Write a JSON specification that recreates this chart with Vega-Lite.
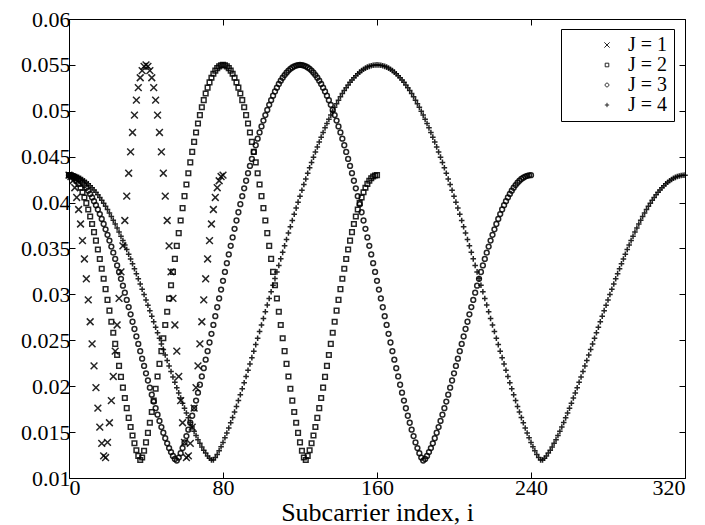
{
"$schema": "https://vega.github.io/schema/vega-lite/v6.json",
"width": 616, "height": 459,
"autosize": {"type": "none"},
"padding": {"left": 69, "top": 19, "right": 20, "bottom": 47},
"background": "white",
"config": {
  "view": {"stroke": "#000", "strokeWidth": 1},
  "font": "Liberation Serif",
  "axis": {"grid": false, "domain": false, "tickColor": "#000", "tickSize": -6, "tickWidth": 1, "labelFont": "Liberation Serif", "labelFontSize": 22, "labelColor": "#000", "titleFont": "Liberation Serif", "titleFontSize": 26, "titleFontWeight": "normal", "titleColor": "#000"}
},
"resolve": {"axis": {"x": "independent", "y": "independent"}},
"layer": [
{
"data": {"values": [
{"J":1,"i":0,"v":0.04299},{"J":1,"i":1,"v":0.04284},{"J":1,"i":2,"v":0.04238},{"J":1,"i":3,"v":0.04162},{"J":1,"i":4,"v":0.04056},{"J":1,"i":5,"v":0.03925},{"J":1,"i":6,"v":0.03767},{"J":1,"i":7,"v":0.03586},{"J":1,"i":8,"v":0.03386},{"J":1,"i":9,"v":0.03170},{"J":1,"i":10,"v":0.02940},{"J":1,"i":11,"v":0.02702},{"J":1,"i":12,"v":0.02461},{"J":1,"i":13,"v":0.02221},{"J":1,"i":14,"v":0.01984},{"J":1,"i":15,"v":0.01761},{"J":1,"i":16,"v":0.01555},{"J":1,"i":17,"v":0.01378},{"J":1,"i":18,"v":0.01241},{"J":1,"i":19,"v":0.01223},{"J":1,"i":20,"v":0.01388},{"J":1,"i":21,"v":0.01602},{"J":1,"i":22,"v":0.01843},{"J":1,"i":23,"v":0.02106},{"J":1,"i":24,"v":0.02382},{"J":1,"i":25,"v":0.02667},{"J":1,"i":26,"v":0.02956},{"J":1,"i":27,"v":0.03245},{"J":1,"i":28,"v":0.03529},{"J":1,"i":29,"v":0.03805},{"J":1,"i":30,"v":0.04070},{"J":1,"i":31,"v":0.04320},{"J":1,"i":32,"v":0.04552},{"J":1,"i":33,"v":0.04764},{"J":1,"i":34,"v":0.04953},{"J":1,"i":35,"v":0.05116},{"J":1,"i":36,"v":0.05252},{"J":1,"i":37,"v":0.05360},{"J":1,"i":38,"v":0.05438},{"J":1,"i":39,"v":0.05484},{"J":1,"i":40,"v":0.05500},{"J":1,"i":41,"v":0.05484},{"J":1,"i":42,"v":0.05438},{"J":1,"i":43,"v":0.05360},{"J":1,"i":44,"v":0.05252},{"J":1,"i":45,"v":0.05116},{"J":1,"i":46,"v":0.04953},{"J":1,"i":47,"v":0.04764},{"J":1,"i":48,"v":0.04552},{"J":1,"i":49,"v":0.04320},{"J":1,"i":50,"v":0.04070},{"J":1,"i":51,"v":0.03805},{"J":1,"i":52,"v":0.03529},{"J":1,"i":53,"v":0.03245},{"J":1,"i":54,"v":0.02956},{"J":1,"i":55,"v":0.02667},{"J":1,"i":56,"v":0.02382},{"J":1,"i":57,"v":0.02106},{"J":1,"i":58,"v":0.01843},{"J":1,"i":59,"v":0.01602},{"J":1,"i":60,"v":0.01388},{"J":1,"i":61,"v":0.01223},{"J":1,"i":62,"v":0.01241},{"J":1,"i":63,"v":0.01378},{"J":1,"i":64,"v":0.01555},{"J":1,"i":65,"v":0.01761},{"J":1,"i":66,"v":0.01984},{"J":1,"i":67,"v":0.02221},{"J":1,"i":68,"v":0.02461},{"J":1,"i":69,"v":0.02702},{"J":1,"i":70,"v":0.02940},{"J":1,"i":71,"v":0.03170},{"J":1,"i":72,"v":0.03386},{"J":1,"i":73,"v":0.03586},{"J":1,"i":74,"v":0.03767},{"J":1,"i":75,"v":0.03925},{"J":1,"i":76,"v":0.04056},{"J":1,"i":77,"v":0.04162},{"J":1,"i":78,"v":0.04238},{"J":1,"i":79,"v":0.04284},{"J":1,"i":80,"v":0.04299},
{"J":2,"i":0,"v":0.04299},{"J":2,"i":1,"v":0.04295},{"J":2,"i":2,"v":0.04284},{"J":2,"i":3,"v":0.04265},{"J":2,"i":4,"v":0.04238},{"J":2,"i":5,"v":0.04204},{"J":2,"i":6,"v":0.04162},{"J":2,"i":7,"v":0.04113},{"J":2,"i":8,"v":0.04056},{"J":2,"i":9,"v":0.03994},{"J":2,"i":10,"v":0.03925},{"J":2,"i":11,"v":0.03848},{"J":2,"i":12,"v":0.03767},{"J":2,"i":13,"v":0.03679},{"J":2,"i":14,"v":0.03586},{"J":2,"i":15,"v":0.03489},{"J":2,"i":16,"v":0.03386},{"J":2,"i":17,"v":0.03280},{"J":2,"i":18,"v":0.03170},{"J":2,"i":19,"v":0.03057},{"J":2,"i":20,"v":0.02940},{"J":2,"i":21,"v":0.02823},{"J":2,"i":22,"v":0.02702},{"J":2,"i":23,"v":0.02582},{"J":2,"i":24,"v":0.02461},{"J":2,"i":25,"v":0.02340},{"J":2,"i":26,"v":0.02221},{"J":2,"i":27,"v":0.02101},{"J":2,"i":28,"v":0.01984},{"J":2,"i":29,"v":0.01871},{"J":2,"i":30,"v":0.01761},{"J":2,"i":31,"v":0.01655},{"J":2,"i":32,"v":0.01555},{"J":2,"i":33,"v":0.01463},{"J":2,"i":34,"v":0.01378},{"J":2,"i":35,"v":0.01302},{"J":2,"i":36,"v":0.01241},{"J":2,"i":37,"v":0.01196},{"J":2,"i":38,"v":0.01223},{"J":2,"i":39,"v":0.01297},{"J":2,"i":40,"v":0.01388},{"J":2,"i":41,"v":0.01491},{"J":2,"i":42,"v":0.01602},{"J":2,"i":43,"v":0.01719},{"J":2,"i":44,"v":0.01843},{"J":2,"i":45,"v":0.01972},{"J":2,"i":46,"v":0.02106},{"J":2,"i":47,"v":0.02243},{"J":2,"i":48,"v":0.02382},{"J":2,"i":49,"v":0.02523},{"J":2,"i":50,"v":0.02667},{"J":2,"i":51,"v":0.02811},{"J":2,"i":52,"v":0.02956},{"J":2,"i":53,"v":0.03100},{"J":2,"i":54,"v":0.03245},{"J":2,"i":55,"v":0.03387},{"J":2,"i":56,"v":0.03529},{"J":2,"i":57,"v":0.03668},{"J":2,"i":58,"v":0.03805},{"J":2,"i":59,"v":0.03940},{"J":2,"i":60,"v":0.04070},{"J":2,"i":61,"v":0.04197},{"J":2,"i":62,"v":0.04320},{"J":2,"i":63,"v":0.04438},{"J":2,"i":64,"v":0.04552},{"J":2,"i":65,"v":0.04661},{"J":2,"i":66,"v":0.04764},{"J":2,"i":67,"v":0.04862},{"J":2,"i":68,"v":0.04953},{"J":2,"i":69,"v":0.05038},{"J":2,"i":70,"v":0.05116},{"J":2,"i":71,"v":0.05188},{"J":2,"i":72,"v":0.05252},{"J":2,"i":73,"v":0.05310},{"J":2,"i":74,"v":0.05360},{"J":2,"i":75,"v":0.05403},{"J":2,"i":76,"v":0.05438},{"J":2,"i":77,"v":0.05465},{"J":2,"i":78,"v":0.05484},{"J":2,"i":79,"v":0.05496},{"J":2,"i":80,"v":0.05500},{"J":2,"i":81,"v":0.05496},{"J":2,"i":82,"v":0.05484},{"J":2,"i":83,"v":0.05465},{"J":2,"i":84,"v":0.05438},{"J":2,"i":85,"v":0.05403},{"J":2,"i":86,"v":0.05360},{"J":2,"i":87,"v":0.05310},{"J":2,"i":88,"v":0.05252},{"J":2,"i":89,"v":0.05188},{"J":2,"i":90,"v":0.05116},{"J":2,"i":91,"v":0.05038},{"J":2,"i":92,"v":0.04953},{"J":2,"i":93,"v":0.04862},{"J":2,"i":94,"v":0.04764},{"J":2,"i":95,"v":0.04661},{"J":2,"i":96,"v":0.04552},{"J":2,"i":97,"v":0.04438},{"J":2,"i":98,"v":0.04320},{"J":2,"i":99,"v":0.04197},{"J":2,"i":100,"v":0.04070},{"J":2,"i":101,"v":0.03940},{"J":2,"i":102,"v":0.03805},{"J":2,"i":103,"v":0.03668},{"J":2,"i":104,"v":0.03529},{"J":2,"i":105,"v":0.03387},{"J":2,"i":106,"v":0.03245},{"J":2,"i":107,"v":0.03100},{"J":2,"i":108,"v":0.02956},{"J":2,"i":109,"v":0.02811},{"J":2,"i":110,"v":0.02667},{"J":2,"i":111,"v":0.02523},{"J":2,"i":112,"v":0.02382},{"J":2,"i":113,"v":0.02243},{"J":2,"i":114,"v":0.02106},{"J":2,"i":115,"v":0.01972},{"J":2,"i":116,"v":0.01843},{"J":2,"i":117,"v":0.01719},{"J":2,"i":118,"v":0.01602},{"J":2,"i":119,"v":0.01491},{"J":2,"i":120,"v":0.01388},{"J":2,"i":121,"v":0.01297},{"J":2,"i":122,"v":0.01223},{"J":2,"i":123,"v":0.01196},{"J":2,"i":124,"v":0.01241},{"J":2,"i":125,"v":0.01302},{"J":2,"i":126,"v":0.01378},{"J":2,"i":127,"v":0.01463},{"J":2,"i":128,"v":0.01555},{"J":2,"i":129,"v":0.01655},{"J":2,"i":130,"v":0.01761},{"J":2,"i":131,"v":0.01871},{"J":2,"i":132,"v":0.01984},{"J":2,"i":133,"v":0.02101},{"J":2,"i":134,"v":0.02221},{"J":2,"i":135,"v":0.02340},{"J":2,"i":136,"v":0.02461},{"J":2,"i":137,"v":0.02582},{"J":2,"i":138,"v":0.02702},{"J":2,"i":139,"v":0.02823},{"J":2,"i":140,"v":0.02940},{"J":2,"i":141,"v":0.03057},{"J":2,"i":142,"v":0.03170},{"J":2,"i":143,"v":0.03280},{"J":2,"i":144,"v":0.03386},{"J":2,"i":145,"v":0.03489},{"J":2,"i":146,"v":0.03586},{"J":2,"i":147,"v":0.03679},{"J":2,"i":148,"v":0.03767},{"J":2,"i":149,"v":0.03848},{"J":2,"i":150,"v":0.03925},{"J":2,"i":151,"v":0.03994},{"J":2,"i":152,"v":0.04056},{"J":2,"i":153,"v":0.04113},{"J":2,"i":154,"v":0.04162},{"J":2,"i":155,"v":0.04204},{"J":2,"i":156,"v":0.04238},{"J":2,"i":157,"v":0.04265},{"J":2,"i":158,"v":0.04284},{"J":2,"i":159,"v":0.04295},{"J":2,"i":160,"v":0.04299},
{"J":3,"i":0,"v":0.04299},{"J":3,"i":1,"v":0.04297},{"J":3,"i":2,"v":0.04292},{"J":3,"i":3,"v":0.04284},{"J":3,"i":4,"v":0.04272},{"J":3,"i":5,"v":0.04257},{"J":3,"i":6,"v":0.04238},{"J":3,"i":7,"v":0.04216},{"J":3,"i":8,"v":0.04191},{"J":3,"i":9,"v":0.04162},{"J":3,"i":10,"v":0.04130},{"J":3,"i":11,"v":0.04095},{"J":3,"i":12,"v":0.04056},{"J":3,"i":13,"v":0.04015},{"J":3,"i":14,"v":0.03972},{"J":3,"i":15,"v":0.03925},{"J":3,"i":16,"v":0.03875},{"J":3,"i":17,"v":0.03822},{"J":3,"i":18,"v":0.03767},{"J":3,"i":19,"v":0.03709},{"J":3,"i":20,"v":0.03649},{"J":3,"i":21,"v":0.03586},{"J":3,"i":22,"v":0.03521},{"J":3,"i":23,"v":0.03455},{"J":3,"i":24,"v":0.03386},{"J":3,"i":25,"v":0.03316},{"J":3,"i":26,"v":0.03244},{"J":3,"i":27,"v":0.03170},{"J":3,"i":28,"v":0.03095},{"J":3,"i":29,"v":0.03019},{"J":3,"i":30,"v":0.02940},{"J":3,"i":31,"v":0.02862},{"J":3,"i":32,"v":0.02783},{"J":3,"i":33,"v":0.02702},{"J":3,"i":34,"v":0.02623},{"J":3,"i":35,"v":0.02542},{"J":3,"i":36,"v":0.02461},{"J":3,"i":37,"v":0.02381},{"J":3,"i":38,"v":0.02300},{"J":3,"i":39,"v":0.02221},{"J":3,"i":40,"v":0.02140},{"J":3,"i":41,"v":0.02062},{"J":3,"i":42,"v":0.01984},{"J":3,"i":43,"v":0.01908},{"J":3,"i":44,"v":0.01833},{"J":3,"i":45,"v":0.01761},{"J":3,"i":46,"v":0.01690},{"J":3,"i":47,"v":0.01622},{"J":3,"i":48,"v":0.01555},{"J":3,"i":49,"v":0.01493},{"J":3,"i":50,"v":0.01433},{"J":3,"i":51,"v":0.01378},{"J":3,"i":52,"v":0.01326},{"J":3,"i":53,"v":0.01282},{"J":3,"i":54,"v":0.01241},{"J":3,"i":55,"v":0.01208},{"J":3,"i":56,"v":0.01190},{"J":3,"i":57,"v":0.01223},{"J":3,"i":58,"v":0.01270},{"J":3,"i":59,"v":0.01326},{"J":3,"i":60,"v":0.01388},{"J":3,"i":61,"v":0.01457},{"J":3,"i":62,"v":0.01526},{"J":3,"i":63,"v":0.01602},{"J":3,"i":64,"v":0.01678},{"J":3,"i":65,"v":0.01760},{"J":3,"i":66,"v":0.01843},{"J":3,"i":67,"v":0.01929},{"J":3,"i":68,"v":0.02016},{"J":3,"i":69,"v":0.02106},{"J":3,"i":70,"v":0.02196},{"J":3,"i":71,"v":0.02289},{"J":3,"i":72,"v":0.02382},{"J":3,"i":73,"v":0.02476},{"J":3,"i":74,"v":0.02571},{"J":3,"i":75,"v":0.02667},{"J":3,"i":76,"v":0.02763},{"J":3,"i":77,"v":0.02860},{"J":3,"i":78,"v":0.02956},{"J":3,"i":79,"v":0.03053},{"J":3,"i":80,"v":0.03148},{"J":3,"i":81,"v":0.03245},{"J":3,"i":82,"v":0.03340},{"J":3,"i":83,"v":0.03435},{"J":3,"i":84,"v":0.03529},{"J":3,"i":85,"v":0.03621},{"J":3,"i":86,"v":0.03714},{"J":3,"i":87,"v":0.03805},{"J":3,"i":88,"v":0.03895},{"J":3,"i":89,"v":0.03983},{"J":3,"i":90,"v":0.04070},{"J":3,"i":91,"v":0.04155},{"J":3,"i":92,"v":0.04238},{"J":3,"i":93,"v":0.04320},{"J":3,"i":94,"v":0.04399},{"J":3,"i":95,"v":0.04476},{"J":3,"i":96,"v":0.04552},{"J":3,"i":97,"v":0.04625},{"J":3,"i":98,"v":0.04696},{"J":3,"i":99,"v":0.04764},{"J":3,"i":100,"v":0.04830},{"J":3,"i":101,"v":0.04893},{"J":3,"i":102,"v":0.04953},{"J":3,"i":103,"v":0.05010},{"J":3,"i":104,"v":0.05065},{"J":3,"i":105,"v":0.05116},{"J":3,"i":106,"v":0.05165},{"J":3,"i":107,"v":0.05210},{"J":3,"i":108,"v":0.05252},{"J":3,"i":109,"v":0.05292},{"J":3,"i":110,"v":0.05328},{"J":3,"i":111,"v":0.05360},{"J":3,"i":112,"v":0.05389},{"J":3,"i":113,"v":0.05415},{"J":3,"i":114,"v":0.05438},{"J":3,"i":115,"v":0.05457},{"J":3,"i":116,"v":0.05472},{"J":3,"i":117,"v":0.05484},{"J":3,"i":118,"v":0.05493},{"J":3,"i":119,"v":0.05498},{"J":3,"i":120,"v":0.05500},{"J":3,"i":121,"v":0.05498},{"J":3,"i":122,"v":0.05493},{"J":3,"i":123,"v":0.05484},{"J":3,"i":124,"v":0.05472},{"J":3,"i":125,"v":0.05457},{"J":3,"i":126,"v":0.05438},{"J":3,"i":127,"v":0.05415},{"J":3,"i":128,"v":0.05389},{"J":3,"i":129,"v":0.05360},{"J":3,"i":130,"v":0.05328},{"J":3,"i":131,"v":0.05292},{"J":3,"i":132,"v":0.05252},{"J":3,"i":133,"v":0.05210},{"J":3,"i":134,"v":0.05165},{"J":3,"i":135,"v":0.05116},{"J":3,"i":136,"v":0.05065},{"J":3,"i":137,"v":0.05010},{"J":3,"i":138,"v":0.04953},{"J":3,"i":139,"v":0.04893},{"J":3,"i":140,"v":0.04830},{"J":3,"i":141,"v":0.04764},{"J":3,"i":142,"v":0.04696},{"J":3,"i":143,"v":0.04625},{"J":3,"i":144,"v":0.04552},{"J":3,"i":145,"v":0.04476},{"J":3,"i":146,"v":0.04399},{"J":3,"i":147,"v":0.04320},{"J":3,"i":148,"v":0.04238},{"J":3,"i":149,"v":0.04155},{"J":3,"i":150,"v":0.04070},{"J":3,"i":151,"v":0.03983},{"J":3,"i":152,"v":0.03895},{"J":3,"i":153,"v":0.03805},{"J":3,"i":154,"v":0.03714},{"J":3,"i":155,"v":0.03621},{"J":3,"i":156,"v":0.03529},{"J":3,"i":157,"v":0.03435},{"J":3,"i":158,"v":0.03340},{"J":3,"i":159,"v":0.03245},{"J":3,"i":160,"v":0.03148},{"J":3,"i":161,"v":0.03053},{"J":3,"i":162,"v":0.02956},{"J":3,"i":163,"v":0.02860},{"J":3,"i":164,"v":0.02763},{"J":3,"i":165,"v":0.02667},{"J":3,"i":166,"v":0.02571},{"J":3,"i":167,"v":0.02476},{"J":3,"i":168,"v":0.02382},{"J":3,"i":169,"v":0.02289},{"J":3,"i":170,"v":0.02196},{"J":3,"i":171,"v":0.02106},{"J":3,"i":172,"v":0.02016},{"J":3,"i":173,"v":0.01929},{"J":3,"i":174,"v":0.01843},{"J":3,"i":175,"v":0.01760},{"J":3,"i":176,"v":0.01678},{"J":3,"i":177,"v":0.01602},{"J":3,"i":178,"v":0.01526},{"J":3,"i":179,"v":0.01457},{"J":3,"i":180,"v":0.01388},{"J":3,"i":181,"v":0.01326},{"J":3,"i":182,"v":0.01270},{"J":3,"i":183,"v":0.01223},{"J":3,"i":184,"v":0.01190},{"J":3,"i":185,"v":0.01208},{"J":3,"i":186,"v":0.01241},{"J":3,"i":187,"v":0.01282},{"J":3,"i":188,"v":0.01326},{"J":3,"i":189,"v":0.01378},{"J":3,"i":190,"v":0.01433},{"J":3,"i":191,"v":0.01493},{"J":3,"i":192,"v":0.01555},{"J":3,"i":193,"v":0.01622},{"J":3,"i":194,"v":0.01690},{"J":3,"i":195,"v":0.01761},{"J":3,"i":196,"v":0.01833},{"J":3,"i":197,"v":0.01908},{"J":3,"i":198,"v":0.01984},{"J":3,"i":199,"v":0.02062},{"J":3,"i":200,"v":0.02140},{"J":3,"i":201,"v":0.02221},{"J":3,"i":202,"v":0.02300},{"J":3,"i":203,"v":0.02381},{"J":3,"i":204,"v":0.02461},{"J":3,"i":205,"v":0.02542},{"J":3,"i":206,"v":0.02623},{"J":3,"i":207,"v":0.02702},{"J":3,"i":208,"v":0.02783},{"J":3,"i":209,"v":0.02862},{"J":3,"i":210,"v":0.02940},{"J":3,"i":211,"v":0.03019},{"J":3,"i":212,"v":0.03095},{"J":3,"i":213,"v":0.03170},{"J":3,"i":214,"v":0.03244},{"J":3,"i":215,"v":0.03316},{"J":3,"i":216,"v":0.03386},{"J":3,"i":217,"v":0.03455},{"J":3,"i":218,"v":0.03521},{"J":3,"i":219,"v":0.03586},{"J":3,"i":220,"v":0.03649},{"J":3,"i":221,"v":0.03709},{"J":3,"i":222,"v":0.03767},{"J":3,"i":223,"v":0.03822},{"J":3,"i":224,"v":0.03875},{"J":3,"i":225,"v":0.03925},{"J":3,"i":226,"v":0.03972},{"J":3,"i":227,"v":0.04015},{"J":3,"i":228,"v":0.04056},{"J":3,"i":229,"v":0.04095},{"J":3,"i":230,"v":0.04130},{"J":3,"i":231,"v":0.04162},{"J":3,"i":232,"v":0.04191},{"J":3,"i":233,"v":0.04216},{"J":3,"i":234,"v":0.04238},{"J":3,"i":235,"v":0.04257},{"J":3,"i":236,"v":0.04272},{"J":3,"i":237,"v":0.04284},{"J":3,"i":238,"v":0.04292},{"J":3,"i":239,"v":0.04297},{"J":3,"i":240,"v":0.04299},
{"J":4,"i":0,"v":0.04299},{"J":4,"i":1,"v":0.04298},{"J":4,"i":2,"v":0.04295},{"J":4,"i":3,"v":0.04290},{"J":4,"i":4,"v":0.04284},{"J":4,"i":5,"v":0.04275},{"J":4,"i":6,"v":0.04265},{"J":4,"i":7,"v":0.04252},{"J":4,"i":8,"v":0.04238},{"J":4,"i":9,"v":0.04222},{"J":4,"i":10,"v":0.04204},{"J":4,"i":11,"v":0.04184},{"J":4,"i":12,"v":0.04162},{"J":4,"i":13,"v":0.04138},{"J":4,"i":14,"v":0.04113},{"J":4,"i":15,"v":0.04085},{"J":4,"i":16,"v":0.04056},{"J":4,"i":17,"v":0.04026},{"J":4,"i":18,"v":0.03994},{"J":4,"i":19,"v":0.03960},{"J":4,"i":20,"v":0.03925},{"J":4,"i":21,"v":0.03887},{"J":4,"i":22,"v":0.03848},{"J":4,"i":23,"v":0.03808},{"J":4,"i":24,"v":0.03767},{"J":4,"i":25,"v":0.03724},{"J":4,"i":26,"v":0.03679},{"J":4,"i":27,"v":0.03633},{"J":4,"i":28,"v":0.03586},{"J":4,"i":29,"v":0.03538},{"J":4,"i":30,"v":0.03489},{"J":4,"i":31,"v":0.03438},{"J":4,"i":32,"v":0.03386},{"J":4,"i":33,"v":0.03333},{"J":4,"i":34,"v":0.03280},{"J":4,"i":35,"v":0.03226},{"J":4,"i":36,"v":0.03170},{"J":4,"i":37,"v":0.03113},{"J":4,"i":38,"v":0.03057},{"J":4,"i":39,"v":0.02999},{"J":4,"i":40,"v":0.02940},{"J":4,"i":41,"v":0.02882},{"J":4,"i":42,"v":0.02823},{"J":4,"i":43,"v":0.02763},{"J":4,"i":44,"v":0.02702},{"J":4,"i":45,"v":0.02643},{"J":4,"i":46,"v":0.02582},{"J":4,"i":47,"v":0.02521},{"J":4,"i":48,"v":0.02461},{"J":4,"i":49,"v":0.02401},{"J":4,"i":50,"v":0.02340},{"J":4,"i":51,"v":0.02280},{"J":4,"i":52,"v":0.02221},{"J":4,"i":53,"v":0.02160},{"J":4,"i":54,"v":0.02101},{"J":4,"i":55,"v":0.02043},{"J":4,"i":56,"v":0.01984},{"J":4,"i":57,"v":0.01927},{"J":4,"i":58,"v":0.01871},{"J":4,"i":59,"v":0.01814},{"J":4,"i":60,"v":0.01761},{"J":4,"i":61,"v":0.01708},{"J":4,"i":62,"v":0.01655},{"J":4,"i":63,"v":0.01605},{"J":4,"i":64,"v":0.01555},{"J":4,"i":65,"v":0.01508},{"J":4,"i":66,"v":0.01463},{"J":4,"i":67,"v":0.01418},{"J":4,"i":68,"v":0.01378},{"J":4,"i":69,"v":0.01339},{"J":4,"i":70,"v":0.01302},{"J":4,"i":71,"v":0.01272},{"J":4,"i":72,"v":0.01241},{"J":4,"i":73,"v":0.01215},{"J":4,"i":74,"v":0.01196},{"J":4,"i":75,"v":0.01196},{"J":4,"i":76,"v":0.01223},{"J":4,"i":77,"v":0.01257},{"J":4,"i":78,"v":0.01297},{"J":4,"i":79,"v":0.01341},{"J":4,"i":80,"v":0.01388},{"J":4,"i":81,"v":0.01439},{"J":4,"i":82,"v":0.01491},{"J":4,"i":83,"v":0.01545},{"J":4,"i":84,"v":0.01602},{"J":4,"i":85,"v":0.01658},{"J":4,"i":86,"v":0.01719},{"J":4,"i":87,"v":0.01780},{"J":4,"i":88,"v":0.01843},{"J":4,"i":89,"v":0.01907},{"J":4,"i":90,"v":0.01972},{"J":4,"i":91,"v":0.02038},{"J":4,"i":92,"v":0.02106},{"J":4,"i":93,"v":0.02173},{"J":4,"i":94,"v":0.02243},{"J":4,"i":95,"v":0.02311},{"J":4,"i":96,"v":0.02382},{"J":4,"i":97,"v":0.02453},{"J":4,"i":98,"v":0.02523},{"J":4,"i":99,"v":0.02595},{"J":4,"i":100,"v":0.02667},{"J":4,"i":101,"v":0.02738},{"J":4,"i":102,"v":0.02811},{"J":4,"i":103,"v":0.02884},{"J":4,"i":104,"v":0.02956},{"J":4,"i":105,"v":0.03029},{"J":4,"i":106,"v":0.03100},{"J":4,"i":107,"v":0.03172},{"J":4,"i":108,"v":0.03245},{"J":4,"i":109,"v":0.03316},{"J":4,"i":110,"v":0.03387},{"J":4,"i":111,"v":0.03458},{"J":4,"i":112,"v":0.03529},{"J":4,"i":113,"v":0.03598},{"J":4,"i":114,"v":0.03668},{"J":4,"i":115,"v":0.03737},{"J":4,"i":116,"v":0.03805},{"J":4,"i":117,"v":0.03873},{"J":4,"i":118,"v":0.03940},{"J":4,"i":119,"v":0.04005},{"J":4,"i":120,"v":0.04070},{"J":4,"i":121,"v":0.04134},{"J":4,"i":122,"v":0.04197},{"J":4,"i":123,"v":0.04258},{"J":4,"i":124,"v":0.04320},{"J":4,"i":125,"v":0.04380},{"J":4,"i":126,"v":0.04438},{"J":4,"i":127,"v":0.04495},{"J":4,"i":128,"v":0.04552},{"J":4,"i":129,"v":0.04607},{"J":4,"i":130,"v":0.04661},{"J":4,"i":131,"v":0.04713},{"J":4,"i":132,"v":0.04764},{"J":4,"i":133,"v":0.04814},{"J":4,"i":134,"v":0.04862},{"J":4,"i":135,"v":0.04908},{"J":4,"i":136,"v":0.04953},{"J":4,"i":137,"v":0.04996},{"J":4,"i":138,"v":0.05038},{"J":4,"i":139,"v":0.05078},{"J":4,"i":140,"v":0.05116},{"J":4,"i":141,"v":0.05153},{"J":4,"i":142,"v":0.05188},{"J":4,"i":143,"v":0.05221},{"J":4,"i":144,"v":0.05252},{"J":4,"i":145,"v":0.05282},{"J":4,"i":146,"v":0.05310},{"J":4,"i":147,"v":0.05336},{"J":4,"i":148,"v":0.05360},{"J":4,"i":149,"v":0.05382},{"J":4,"i":150,"v":0.05403},{"J":4,"i":151,"v":0.05421},{"J":4,"i":152,"v":0.05438},{"J":4,"i":153,"v":0.05452},{"J":4,"i":154,"v":0.05465},{"J":4,"i":155,"v":0.05476},{"J":4,"i":156,"v":0.05484},{"J":4,"i":157,"v":0.05491},{"J":4,"i":158,"v":0.05496},{"J":4,"i":159,"v":0.05499},{"J":4,"i":160,"v":0.05500},{"J":4,"i":161,"v":0.05499},{"J":4,"i":162,"v":0.05496},{"J":4,"i":163,"v":0.05491},{"J":4,"i":164,"v":0.05484},{"J":4,"i":165,"v":0.05476},{"J":4,"i":166,"v":0.05465},{"J":4,"i":167,"v":0.05452},{"J":4,"i":168,"v":0.05438},{"J":4,"i":169,"v":0.05421},{"J":4,"i":170,"v":0.05403},{"J":4,"i":171,"v":0.05382},{"J":4,"i":172,"v":0.05360},{"J":4,"i":173,"v":0.05336},{"J":4,"i":174,"v":0.05310},{"J":4,"i":175,"v":0.05282},{"J":4,"i":176,"v":0.05252},{"J":4,"i":177,"v":0.05221},{"J":4,"i":178,"v":0.05188},{"J":4,"i":179,"v":0.05153},{"J":4,"i":180,"v":0.05116},{"J":4,"i":181,"v":0.05078},{"J":4,"i":182,"v":0.05038},{"J":4,"i":183,"v":0.04996},{"J":4,"i":184,"v":0.04953},{"J":4,"i":185,"v":0.04908},{"J":4,"i":186,"v":0.04862},{"J":4,"i":187,"v":0.04814},{"J":4,"i":188,"v":0.04764},{"J":4,"i":189,"v":0.04713},{"J":4,"i":190,"v":0.04661},{"J":4,"i":191,"v":0.04607},{"J":4,"i":192,"v":0.04552},{"J":4,"i":193,"v":0.04495},{"J":4,"i":194,"v":0.04438},{"J":4,"i":195,"v":0.04380},{"J":4,"i":196,"v":0.04320},{"J":4,"i":197,"v":0.04258},{"J":4,"i":198,"v":0.04197},{"J":4,"i":199,"v":0.04134},{"J":4,"i":200,"v":0.04070},{"J":4,"i":201,"v":0.04005},{"J":4,"i":202,"v":0.03940},{"J":4,"i":203,"v":0.03873},{"J":4,"i":204,"v":0.03805},{"J":4,"i":205,"v":0.03737},{"J":4,"i":206,"v":0.03668},{"J":4,"i":207,"v":0.03598},{"J":4,"i":208,"v":0.03529},{"J":4,"i":209,"v":0.03458},{"J":4,"i":210,"v":0.03387},{"J":4,"i":211,"v":0.03316},{"J":4,"i":212,"v":0.03245},{"J":4,"i":213,"v":0.03172},{"J":4,"i":214,"v":0.03100},{"J":4,"i":215,"v":0.03029},{"J":4,"i":216,"v":0.02956},{"J":4,"i":217,"v":0.02884},{"J":4,"i":218,"v":0.02811},{"J":4,"i":219,"v":0.02738},{"J":4,"i":220,"v":0.02667},{"J":4,"i":221,"v":0.02595},{"J":4,"i":222,"v":0.02523},{"J":4,"i":223,"v":0.02453},{"J":4,"i":224,"v":0.02382},{"J":4,"i":225,"v":0.02311},{"J":4,"i":226,"v":0.02243},{"J":4,"i":227,"v":0.02173},{"J":4,"i":228,"v":0.02106},{"J":4,"i":229,"v":0.02038},{"J":4,"i":230,"v":0.01972},{"J":4,"i":231,"v":0.01907},{"J":4,"i":232,"v":0.01843},{"J":4,"i":233,"v":0.01780},{"J":4,"i":234,"v":0.01719},{"J":4,"i":235,"v":0.01658},{"J":4,"i":236,"v":0.01602},{"J":4,"i":237,"v":0.01545},{"J":4,"i":238,"v":0.01491},{"J":4,"i":239,"v":0.01439},{"J":4,"i":240,"v":0.01388},{"J":4,"i":241,"v":0.01341},{"J":4,"i":242,"v":0.01297},{"J":4,"i":243,"v":0.01257},{"J":4,"i":244,"v":0.01223},{"J":4,"i":245,"v":0.01196},{"J":4,"i":246,"v":0.01196},{"J":4,"i":247,"v":0.01215},{"J":4,"i":248,"v":0.01241},{"J":4,"i":249,"v":0.01272},{"J":4,"i":250,"v":0.01302},{"J":4,"i":251,"v":0.01339},{"J":4,"i":252,"v":0.01378},{"J":4,"i":253,"v":0.01418},{"J":4,"i":254,"v":0.01463},{"J":4,"i":255,"v":0.01508},{"J":4,"i":256,"v":0.01555},{"J":4,"i":257,"v":0.01605},{"J":4,"i":258,"v":0.01655},{"J":4,"i":259,"v":0.01708},{"J":4,"i":260,"v":0.01761},{"J":4,"i":261,"v":0.01814},{"J":4,"i":262,"v":0.01871},{"J":4,"i":263,"v":0.01927},{"J":4,"i":264,"v":0.01984},{"J":4,"i":265,"v":0.02043},{"J":4,"i":266,"v":0.02101},{"J":4,"i":267,"v":0.02160},{"J":4,"i":268,"v":0.02221},{"J":4,"i":269,"v":0.02280},{"J":4,"i":270,"v":0.02340},{"J":4,"i":271,"v":0.02401},{"J":4,"i":272,"v":0.02461},{"J":4,"i":273,"v":0.02521},{"J":4,"i":274,"v":0.02582},{"J":4,"i":275,"v":0.02643},{"J":4,"i":276,"v":0.02702},{"J":4,"i":277,"v":0.02763},{"J":4,"i":278,"v":0.02823},{"J":4,"i":279,"v":0.02882},{"J":4,"i":280,"v":0.02940},{"J":4,"i":281,"v":0.02999},{"J":4,"i":282,"v":0.03057},{"J":4,"i":283,"v":0.03113},{"J":4,"i":284,"v":0.03170},{"J":4,"i":285,"v":0.03226},{"J":4,"i":286,"v":0.03280},{"J":4,"i":287,"v":0.03333},{"J":4,"i":288,"v":0.03386},{"J":4,"i":289,"v":0.03438},{"J":4,"i":290,"v":0.03489},{"J":4,"i":291,"v":0.03538},{"J":4,"i":292,"v":0.03586},{"J":4,"i":293,"v":0.03633},{"J":4,"i":294,"v":0.03679},{"J":4,"i":295,"v":0.03724},{"J":4,"i":296,"v":0.03767},{"J":4,"i":297,"v":0.03808},{"J":4,"i":298,"v":0.03848},{"J":4,"i":299,"v":0.03887},{"J":4,"i":300,"v":0.03925},{"J":4,"i":301,"v":0.03960},{"J":4,"i":302,"v":0.03994},{"J":4,"i":303,"v":0.04026},{"J":4,"i":304,"v":0.04056},{"J":4,"i":305,"v":0.04085},{"J":4,"i":306,"v":0.04113},{"J":4,"i":307,"v":0.04138},{"J":4,"i":308,"v":0.04162},{"J":4,"i":309,"v":0.04184},{"J":4,"i":310,"v":0.04204},{"J":4,"i":311,"v":0.04222},{"J":4,"i":312,"v":0.04238},{"J":4,"i":313,"v":0.04252},{"J":4,"i":314,"v":0.04265},{"J":4,"i":315,"v":0.04275},{"J":4,"i":316,"v":0.04284},{"J":4,"i":317,"v":0.04290},{"J":4,"i":318,"v":0.04295},{"J":4,"i":319,"v":0.04298},{"J":4,"i":320,"v":0.04299}
]},
"mark": {"type": "point", "filled": false, "strokeWidth": 1.5, "size": 36, "color": "#000", "opacity": 0.85},
"encoding": {
  "x": {"field": "i", "type": "quantitative", "scale": {"domain": [0, 320], "nice": false, "zero": false}, "axis": {"values": [0, 80, 160, 240, 320], "title": "Subcarrier index, i", "labelBaseline": "alphabetic", "labelPadding": 22, "titleBaseline": "alphabetic", "titleY": 42}},
  "y": {"field": "v", "type": "quantitative", "scale": {"domain": [0.01, 0.06], "nice": false, "zero": false}, "axis": {"values": [0.01, 0.015, 0.02, 0.025, 0.03, 0.035, 0.04, 0.045, 0.05, 0.055, 0.06], "format": "~g", "title": null, "labelPadding": 5}},
  "shape": {"field": "J", "type": "nominal", "scale": {"domain": [1, 2, 3, 4], "range": ["M-1.13,-1.13L1.13,1.13M1.13,-1.13L-1.13,1.13", "M-0.77,-0.77L0.77,-0.77L0.77,0.77L-0.77,0.77Z", "M0.8,0A0.8,0.8,0,1,1,-0.8,0A0.8,0.8,0,1,1,0.8,0Z", "M-0.93,0L0.93,0M0,-0.93L0,0.93"]},
    "legend": {"orient": "none", "legendX": 492, "legendY": 10, "title": null, "labelExpr": "'J = ' + datum.label + '\u00a0'", "strokeColor": "#000", "fillColor": "#fff", "padding": 6, "labelFont": "Liberation Serif", "labelFontSize": 20, "labelColor": "#000", "labelOffset": 11, "symbolSize": 22, "symbolStrokeColor": "#000", "symbolStrokeWidth": 1, "symbolOffset": 30, "rowPadding": 0}}
}
},
{
"data": {"values": [{"i": 0, "v": 0.01}]},
"mark": {"type": "point", "opacity": 0},
"encoding": {
  "x": {"field": "i", "type": "quantitative", "axis": {"orient": "top", "values": [0, 80, 160, 240, 320], "labels": false, "title": null}},
  "y": {"field": "v", "type": "quantitative", "axis": {"orient": "right", "values": [0.01, 0.015, 0.02, 0.025, 0.03, 0.035, 0.04, 0.045, 0.05, 0.055, 0.06], "labels": false, "title": null}}
}
}
]
}
